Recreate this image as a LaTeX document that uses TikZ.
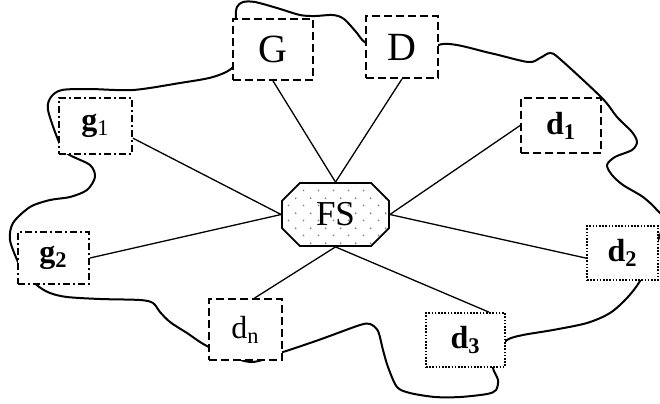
\documentclass[tikz,border=0pt]{standalone}
\usepackage{fontspec}
\setmainfont{Liberation Serif}
\usetikzlibrary{shapes.misc,patterns.meta}

\tikzdeclarepattern{
  name=fsdots,
  type=uncolored,
  bottom left={(0pt,0pt)},
  top right={(7.5pt,7.5pt)},
  tile size={(7.5pt,7.5pt)},
  code={
    \fill (1.875pt,1.875pt) circle (0.5pt);
    \fill (5.625pt,5.625pt) circle (0.5pt);
  }
}

\begin{document}
\begin{tikzpicture}[x=0.5pt,y=-0.5pt,
  boxbase/.style={draw,fill=white,line width=0.9pt,inner sep=0pt},
  dashedbox/.style={boxbase,dash pattern=on 4pt off 2pt},
  dottedbox/.style={boxbase,dash pattern=on 0.8pt off 0.8pt},
  dashdotbox/.style={boxbase,dash pattern=on 3.5pt off 1.5pt on 1pt off 1.5pt},
  hub/.style={chamfered rectangle,chamfered rectangle xsep=9pt,draw,line width=0.9pt,
    pattern={fsdots},pattern color=gray,inner sep=0pt,minimum width=53.5pt,minimum height=31.5pt,
    font=\fontsize{17.5}{19}\selectfont},
  big/.style={font=\fontsize{20}{22}\selectfont},
  small/.style={font=\fontsize{16}{18}\selectfont},
  link/.style={line width=0.65pt},
  border/.style={line width=1pt}]
  \useasboundingbox (0,0) rectangle (660,403);
  % boundary around the group
  \draw[border] plot[smooth cycle,tension=0.5] coordinates {
    (240,45) (236,18) (237,7) (243,2) (255,2) (277,8) (300,15) (315,16) (333,15) (344,19)
    (357,33) (366,43) (400,62) (443,44) (490,53) (528,62) (540,58) (550,53) (560,59)
    (602,98) (617,117) (632,132) (637,142) (632,150) (615,157) (607,165) (612,175)
    (623,185) (643,197) (657,210) (664,222) (652,255) (640,281) (627,298) (610,313)
    (587,323) (553,330) (523,335) (507,340) (495,354) (493,368) (498,380) (496,390)
    (487,394) (460,397) (435,397) (410,393) (397,387) (388,367) (383,350) (378,331)
    (370,324) (360,325) (327,337) (310,343) (283,352) (250,362) (209,347) (187,333)
    (170,322) (160,312) (153,303) (140,300) (100,299) (67,297) (50,293) (38,286)
    (24,272) (18,262) (10,240) (13,223) (30,207) (50,200) (70,197) (87,190) (95,177)
    (90,165) (68,154) (59,142) (48,110) (51,97) (62,90) (90,89) (133,90) (180,83)
    (213,77) (233,67)};
  \node[hub] (FS) at (335.5,214.5) {FS};
  \node[dashedbox,big,minimum width=40pt,minimum height=30.5pt] (G) at (273,49.5) {G};
  \node[dashedbox,big,minimum width=36pt,minimum height=31pt] (D) at (402,47) {D};
  \node[dashdotbox,small,minimum width=36.5pt,minimum height=28pt] (g1) at (95.5,126) {\textbf{g}\textsubscript{1}};
  \node[dashdotbox,small,minimum width=35.5pt,minimum height=26pt] (g2) at (53.5,258) {\textbf{g\textsubscript{2}}};
  \node[dashedbox,small,minimum width=40pt,minimum height=27.5pt] (d1) at (561,125.5) {\textbf{d\textsubscript{1}}};
  \node[dottedbox,small,minimum width=35.5pt,minimum height=27pt] (d2) at (622.5,253) {\textbf{d\textsubscript{2}}};
  \node[dottedbox,small,minimum width=39.5pt,minimum height=27pt] (d3) at (465.5,340) {\textbf{d\textsubscript{3}}};
  \node[dashedbox,small,minimum width=36.5pt,minimum height=30.5pt] (dn) at (245.5,329.5) {d\textsubscript{n}};
  \draw[link] (FS.north) -- (G.south);
  \draw[link] (FS.north) -- (D.south);
  \draw[link] (FS.west) -- (g1.-18);
  \draw[link] (FS.west) -- (g2.east);
  \draw[link] (FS.east) -- (d1.west);
  \draw[link] (FS.east) -- (d2.188);
  \draw[link] (FS.south) -- (d3.50);
  \draw[link] (FS.south) -- (dn.74);
\end{tikzpicture}
\end{document}
